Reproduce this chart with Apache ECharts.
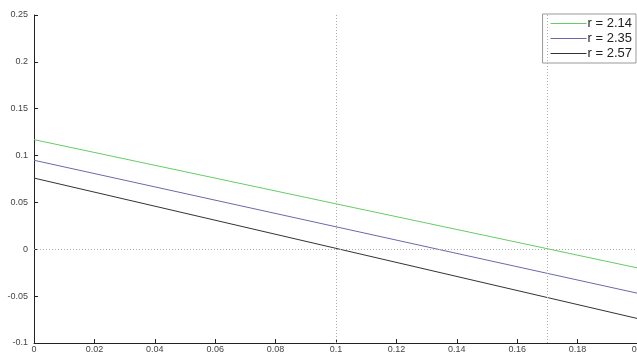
<!DOCTYPE html>
<html>
<head>
<meta charset="utf-8">
<script src="https://cdn.jsdelivr.net/npm/echarts@6/dist/echarts.min.js"></script>
<style>
  html, body { margin: 0; padding: 0; background: #fff; }
  #chart { width: 637px; height: 354px; }
</style>
</head>
<body>
<div id="chart"></div>
<script>
// Sampled curves y(x) for three values of r
const xValues = [0, 0.05, 0.1, 0.15, 0.2];
const seriesNames = ['r = 2.14', 'r = 2.35', 'r = 2.57'];
const yR214 = [0.117, 0.0828, 0.0485, 0.0143, -0.020];
const yR235 = [0.095, 0.0595, 0.024, -0.0115, -0.047];
const yR257 = [0.076, 0.0385, 0.001, -0.0365, -0.074];
const lineColors = ['#66cc66', '#6a6aa8', '#333333'];
// Reference guides: zero level and the two crossing positions
const zeroLevel = 0;
const crossingX = [0.098, 0.1685];

const curves = [yR214, yR235, yR257];

function pairs(ys) {
  return xValues.map((x, i) => [x, ys[i]]);
}

const guideStyle = { color: '#aaaaaa', type: [1, 2], width: 1 };

const series = curves.map((ys, i) => ({
  name: seriesNames[i],
  type: 'line',
  data: pairs(ys),
  symbol: 'none',
  lineStyle: { color: lineColors[i], width: 1 },
  itemStyle: { color: lineColors[i] },
  z: 3
}));

series.push({
  name: 'guides',
  type: 'line',
  data: [],
  symbol: 'none',
  silent: true,
  z: 1,
  markLine: {
    silent: true,
    symbol: ['none', 'none'],
    label: { show: false },
    lineStyle: guideStyle,
    data: [
      { yAxis: zeroLevel },
      ...crossingX.map(x => ({ xAxis: x }))
    ]
  }
});

// Legend entries: thin coloured bar standing in for the line
const legendItems = seriesNames.map((name, i) => ({
  name: name,
  icon: 'rect',
  itemStyle: { color: lineColors[i] }
}));

const chart = echarts.init(document.getElementById('chart'));
chart.setOption({
  animation: false,
  backgroundColor: '#ffffff',
  textStyle: { fontFamily: 'Liberation Sans, Arial, sans-serif' },
  grid: { left: 34, right: -1, top: 15, bottom: 11, containLabel: false, outerBoundsMode: 'none' },
  legend: {
    data: legendItems,
    orient: 'vertical',
    right: 1,
    top: 14,
    backgroundColor: '#ffffff',
    borderColor: '#999999',
    borderWidth: 1,
    padding: [3, 4, 3, 8],
    itemGap: 2,
    itemWidth: 36,
    itemHeight: 1,
    textStyle: { fontSize: 13, color: '#222', padding: [0, 0, 0, -4] }
  },
  xAxis: {
    type: 'value',
    min: 0,
    max: 0.2,
    interval: 0.02,
    axisLine: { show: true, onZero: false, lineStyle: { color: '#222', width: 1 } },
    axisTick: { show: true, inside: true, length: 4, lineStyle: { color: '#222' } },
    axisLabel: { fontSize: 9, color: '#444', margin: 2, hideOverlap: false },
    splitLine: { show: false }
  },
  yAxis: {
    type: 'value',
    min: -0.1,
    max: 0.25,
    interval: 0.05,
    axisLine: { show: true, onZero: false, lineStyle: { color: '#222', width: 1 } },
    axisTick: { show: true, inside: true, length: 4, lineStyle: { color: '#222' } },
    axisLabel: { fontSize: 9, color: '#444', margin: 6 },
    splitLine: { show: false }
  },
  series: series
});
</script>
</body>
</html>
